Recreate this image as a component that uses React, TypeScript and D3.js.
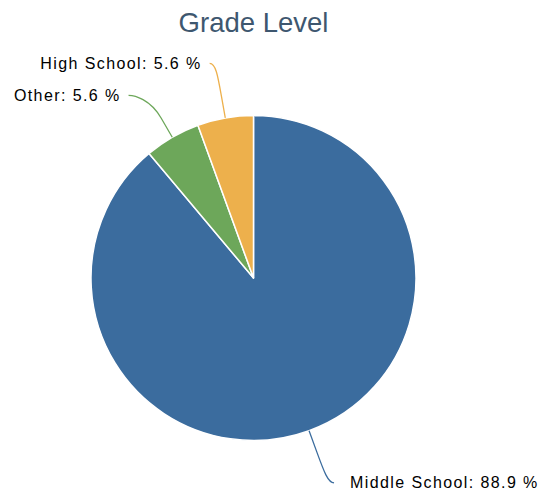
import React from "react";
import * as d3 from "d3";

const categories = ["Middle School", "Other", "High School"];
const values = [16, 1, 1];
const colors = ["#3b6c9e", "#6da75a", "#edb04c"];
const title = "Grade Level";

const W = 544;
const H = 492;

export default function App() {
  const cx = 253.5;
  const cy = 278;
  const r = 162.5;
  const labelR = 218;
  const breakR = r + 22;
  const minGap = 32;

  const pie = d3.pie<number>().sort(null).value((d) => d);
  const arcs = pie(values);
  const arcGen = d3.arc<d3.PieArcDatum<number>>().innerRadius(0).outerRadius(r);
  const total = d3.sum(values);

  const pt = (a: number, rad: number): [number, number] => [
    cx + rad * Math.sin(a),
    cy - rad * Math.cos(a),
  ];

  // initial label anchors
  const labels = arcs.map((a, i) => {
    const mid = (a.startAngle + a.endAngle) / 2;
    const right = Math.sin(mid) >= 0;
    const p = pt(mid, labelR);
    return { i, mid, right, y: p[1] };
  });
  // spread labels on each side to avoid overlap (top to bottom)
  [true, false].forEach((side) => {
    const group = labels.filter((l) => l.right === side).sort((a, b) => a.y - b.y);
    for (let k = 1; k < group.length; k++) {
      if (group[k].y - group[k - 1].y < minGap) group[k].y = group[k - 1].y + minGap;
    }
  });

  return (
    <svg width={W} height={H} style={{ position: "absolute", left: 0, top: 0 }}>
      <text
        x={cx}
        y={32}
        textAnchor="middle"
        fontFamily="Liberation Sans, Arial, sans-serif"
        fontSize={27.5}
        fill="#3E576F"
      >
        {title}
      </text>
      <g transform={`translate(${cx},${cy})`}>
        {arcs.map((a, i) => (
          <path
            key={i}
            d={arcGen(a) || ""}
            fill={colors[i]}
            stroke="#ffffff"
            strokeWidth={1.5}
            strokeLinejoin="round"
          />
        ))}
      </g>
      {labels.map((l) => {
        const i = l.i;
        const right = l.right;
        const dy = l.y - cy;
        const dx = Math.sqrt(Math.max(0, labelR * labelR - dy * dy));
        const ax = cx + (right ? dx : -dx);
        const ay = l.y;
        const edge = pt(l.mid, r);
        const brk = pt(l.mid, breakR);
        const sx = ax + (right ? 6 : -6);
        const sy = ay;
        const c1x = sx + (right ? -6 : 6);
        const path = `M${sx},${sy} C${c1x},${sy} ${2 * brk[0] - edge[0]},${2 * brk[1] - edge[1]} ${brk[0]},${brk[1]} L${edge[0]},${edge[1]}`;
        const pct = ((values[i] / total) * 100).toFixed(1);
        return (
          <g key={i}>
            <path d={path} fill="none" stroke={colors[i]} strokeWidth={1.3} />
            <text
              x={ax + (right ? 22 : -14)}
              y={ay}
              dy="0.35em"
              textAnchor={right ? "start" : "end"}
              fontFamily="Liberation Sans, Arial, sans-serif"
              fontSize={16}
              letterSpacing={1.4}
              fill="#000000"
            >
              {`${categories[i]}: ${pct} %`}
            </text>
          </g>
        );
      })}
    </svg>
  );
}
